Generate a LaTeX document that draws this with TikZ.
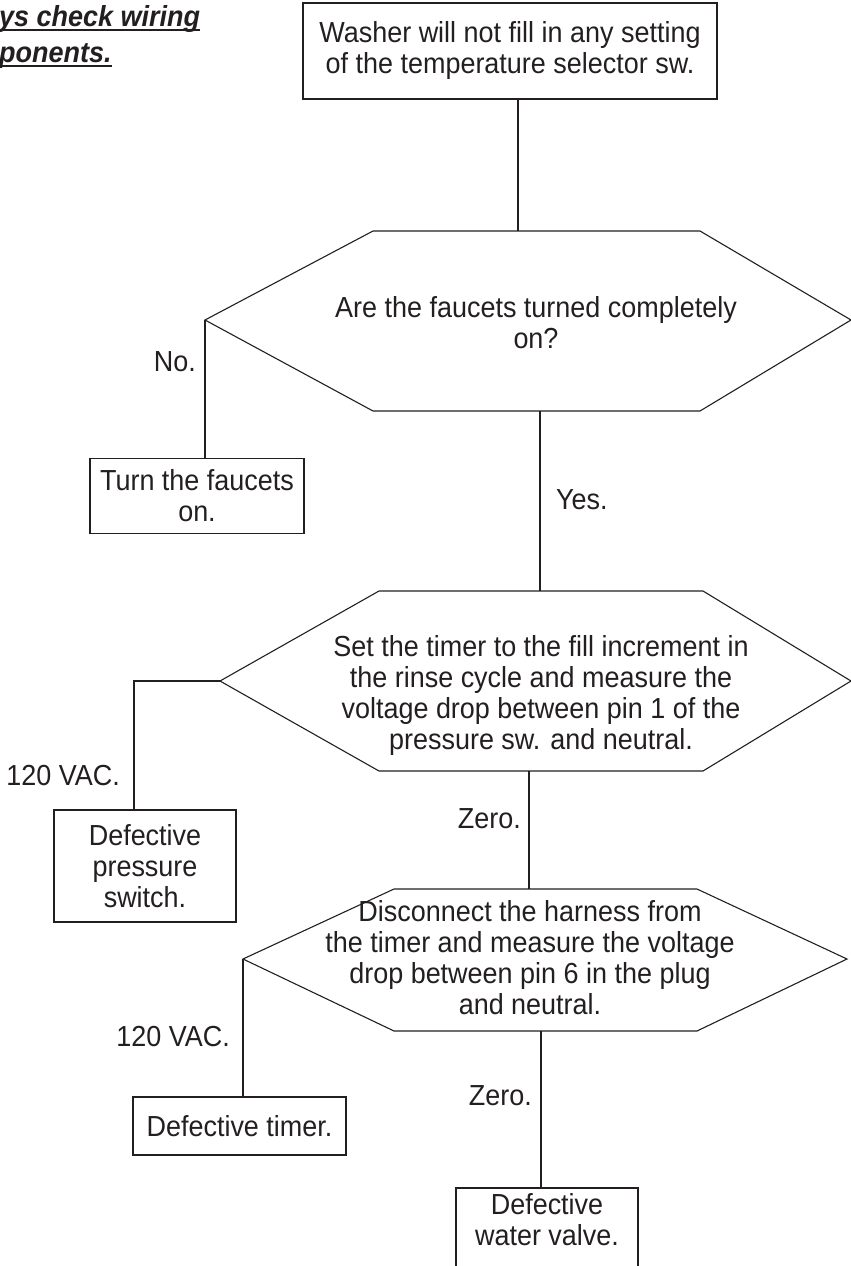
\documentclass[tikz,border=0pt]{standalone}
\usepackage{fontspec}
\setmainfont{Liberation Sans}[FakeStretch=0.93]
\definecolor{ink}{HTML}{231F20}
\begin{document}
\begin{tikzpicture}[x=1pt,y=-1pt,
  every node/.style={font=\fontsize{29}{31}\selectfont, inner sep=0pt, text=ink},
  box/.style={draw=ink, line width=1.1pt, align=center},
  txt/.style={align=center},
  lbl/.style={},
  link/.style={draw=ink, line width=1.1pt},
  hexline/.style={draw=ink, line width=1.1pt, line join=miter},
  warn/.style={font=\fontsize{29}{31}\selectfont\bfseries\itshape}]
\useasboundingbox (0,0) rectangle (851,1266);
\clip (0,0) rectangle (851,1266);

% warning text (cut off at left)
\node[warn, anchor=base west] (w1) at (-1,26) {ys check wiring};
\node[warn, anchor=base west] (w2) at (-1,62) {ponents.};
\draw[ink, line width=2pt] ([yshift=-4pt]w1.base west) -- ([yshift=-4pt]w1.base east);
\draw[ink, line width=2pt] ([yshift=-4pt]w2.base west) -- ([yshift=-4pt]w2.base east);

% top box
\node[box, minimum width=414, minimum height=96] (top) at (510,51)
  {Washer will not fill in any setting\\of the temperature selector sw.};

% hexagon 1
\coordinate (h1l) at (205,320); \coordinate (h1tl) at (373,231);
\coordinate (h1tr) at (700,231); \coordinate (h1r) at (851,320);
\coordinate (h1br) at (700,411); \coordinate (h1bl) at (373,411);
\draw[hexline] (h1l)--(h1tl)--(h1tr)--(h1r)--(h1br)--(h1bl)--cycle;
\node[txt] (q1) at (536,323) {Are the faucets turned completely\\on?};
\coordinate (h1t) at (518,231);
\coordinate (h1b) at (540,411);

% no branch
\node[box, minimum width=214, minimum height=75] (turn) at (197,496) {Turn the faucets\\on.};
\node[lbl, anchor=east] (no) at (196,362) {No.};

% hexagon 2
\coordinate (h2l) at (220,681); \coordinate (h2tl) at (379,591);
\coordinate (h2tr) at (703,591); \coordinate (h2r) at (851,681);
\coordinate (h2br) at (703,771); \coordinate (h2bl) at (379,771);
\draw[hexline] (h2l)--(h2tl)--(h2tr)--(h2r)--(h2br)--(h2bl)--cycle;
\node[txt] (q2) at (541,695) {Set the timer to the fill increment in\\the rinse cycle and measure the\\voltage drop between pin 1 of the\\pressure sw. and neutral.};
\coordinate (h2t) at (540,591);
\coordinate (h2b) at (529,771);
\coordinate (h2c) at (134,681);
\node[lbl, anchor=west] (yes) at (556,500) {Yes.};

% pressure switch
\node[box, minimum width=182, minimum height=112] (press) at (145,866) {Defective\\pressure\\switch.};
\node[lbl, anchor=east] (v1) at (120,776) {120 VAC.};

% hexagon 3
\coordinate (h3l) at (243,959); \coordinate (h3tl) at (394,889);
\coordinate (h3tr) at (697,889); \coordinate (h3r) at (847,959);
\coordinate (h3br) at (697,1031); \coordinate (h3bl) at (394,1031);
\draw[hexline] (h3l)--(h3tl)--(h3tr)--(h3r)--(h3br)--(h3bl)--cycle;
\node[txt] (q3) at (530,958) {Disconnect the harness from\\the timer and measure the voltage\\drop between pin 6 in the plug\\and neutral.};
\coordinate (h3t) at (529,889);
\coordinate (h3b) at (541,1031);
\node[lbl, anchor=east] (z1) at (521,819) {Zero.};

% timer
\node[box, minimum width=213, minimum height=58] (timer) at (239.5,1126) {Defective timer.};
\node[lbl, anchor=east] (v2) at (230,1037) {120 VAC.};

% water valve
\node[box, minimum width=182, minimum height=140] (wbox) at (547,1258) {};
\node[txt] (water) at (547,1220) {Defective\\water valve.};
\node[lbl, anchor=east] (z2) at (532,1096) {Zero.};

% connectors
\draw[link] (top.south -| h1t) -- (h1t);
\draw[link] (h1l) -- (h1l |- turn.north);
\draw[link] (h1b) -- (h2t);
\draw[link] (h2l) -- (h2c) -- (h2c |- press.north);
\draw[link] (h2b) -- (h3t);
\draw[link] (h3l) -- (h3l |- timer.north);
\draw[link] (h3b) -- (h3b |- wbox.north);
\end{tikzpicture}
\end{document}
